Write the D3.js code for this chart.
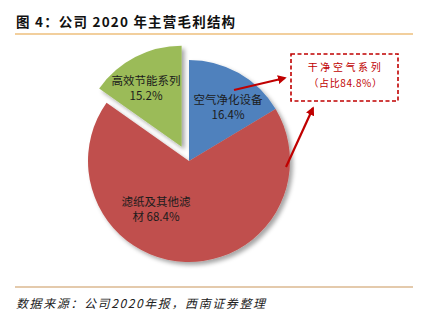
<!DOCTYPE html>
<html>
<head>
<meta charset="utf-8">
<script src="https://cdn.jsdelivr.net/npm/d3@7"></script>
<style>
  html, body { margin: 0; padding: 0; background: #fff; }
  svg { display: block; }
</style>
</head>
<body>
<svg id="chart" width="421" height="323"></svg>
<script>
// Gross profit structure by business line, 2020
const categories = ["空气净化设备", "滤纸及其他滤材", "高效节能系列"];
const labelLines = [["空气净化设备"], ["滤纸及其他滤", "材"], ["高效节能系列"]];
const values = [16.4, 68.4, 15.2];
const colors = ["#4F81BD", "#C0504D", "#9BBB59"];
const exploded = [false, false, true];
const calloutLines = ["干净空气系列", "（占比84.8%）"];

const svg = d3.select("#chart");
const cjk = "'Noto Sans CJK SC', 'Noto Sans', sans-serif";

// Title and rules
svg.append("text")
  .attr("x", 16).attr("y", 27)
  .attr("font-family", cjk).attr("font-size", 13.5).attr("font-weight", "bold")
  .attr("letter-spacing", 1.2)
  .attr("fill", "#111")
  .text("图 4：公司 2020 年主营毛利结构");
svg.append("line").attr("x1", 15).attr("x2", 413).attr("y1", 34).attr("y2", 34)
  .attr("stroke", "#E6A03C").attr("stroke-width", 1.2);
svg.append("line").attr("x1", 15).attr("x2", 413).attr("y1", 287).attr("y2", 287)
  .attr("stroke", "#C9955A").attr("stroke-width", 1.2);
svg.append("text")
  .attr("x", 16).attr("y", 308)
  .attr("font-family", cjk).attr("font-size", 12).attr("font-style", "italic")
  .attr("letter-spacing", 1.6)
  .attr("fill", "#222")
  .text("数据来源：公司2020年报，西南证券整理");

// Soft shadow under the slices
const defs = svg.append("defs");
const f = defs.append("filter").attr("id", "shadow")
  .attr("x", "-20%").attr("y", "-20%").attr("width", "140%").attr("height", "140%");
f.append("feDropShadow").attr("dx", 3).attr("dy", 3).attr("stdDeviation", 2.2)
  .attr("flood-color", "#000").attr("flood-opacity", 0.35);

const cx = 189, cy = 161, r = 101, explode = 16;
const pie = d3.pie().sort(null).value(d => d)(values);
const arc = d3.arc().innerRadius(0).outerRadius(r);
const g = svg.append("g").attr("transform", `translate(${cx},${cy})`);

function offset(d, i) {
  if (!exploded[i]) return [0, 0];
  const a = (d.startAngle + d.endAngle) / 2;
  return [Math.sin(a) * explode, -Math.cos(a) * explode];
}

g.selectAll("path.slice").data(pie).join("path")
  .attr("class", "slice")
  .attr("d", arc)
  .attr("fill", (d, i) => colors[i])
  .attr("filter", "url(#shadow)")
  .attr("transform", (d, i) => `translate(${offset(d, i)})`);

// Slice labels
const labelPos = [[39, -57], [-33, 45], [-43, -76]];
pie.forEach((d, i) => {
  const [lx, ly] = labelPos[i];
  const lines = labelLines[i];
  const pct = values[i].toFixed(1) + "%";
  const rows = lines.length > 1 ? [lines[0], lines[1] + " " + pct] : [lines[0], pct];
  const t = g.append("text")
    .attr("text-anchor", "middle")
    .attr("font-family", cjk).attr("font-size", 11.5)
    .attr("fill", "#1c1c1c");
  rows.forEach((s, k) => {
    t.append("tspan").attr("x", lx).attr("y", ly + k * 15).text(s);
  });
});

// Callout box
const bx = 291, by = 54, bw = 107, bh = 47;
svg.append("rect").attr("x", bx).attr("y", by).attr("width", bw).attr("height", bh)
  .attr("fill", "#fff").attr("stroke", "#C00000").attr("stroke-width", 1.6)
  .attr("stroke-dasharray", "4,2.5");
const calloutSpacing = [2.6, 0.6];
calloutLines.forEach((s, k) => {
  svg.append("text")
    .attr("x", bx + bw / 2 + 1).attr("y", by + 17 + k * 16)
    .attr("text-anchor", "middle")
    .attr("font-family", cjk).attr("font-size", 10)
    .attr("letter-spacing", calloutSpacing[k])
    .attr("fill", "#C00000").text(s);
});

// Arrows pointing to the callout
defs.append("marker").attr("id", "head")
  .attr("viewBox", "0 0 10 10").attr("refX", 8).attr("refY", 5)
  .attr("markerWidth", 4).attr("markerHeight", 4).attr("orient", "auto")
  .append("path").attr("d", "M0,0 L10,5 L0,10 z").attr("fill", "#C00000");
const arrows = [[[234, 90], [285, 78]], [[286, 167], [313, 108]]];
arrows.forEach(([a, b]) => {
  svg.append("line").attr("x1", a[0]).attr("y1", a[1]).attr("x2", b[0]).attr("y2", b[1])
    .attr("stroke", "#C00000").attr("stroke-width", 2.2)
    .attr("marker-end", "url(#head)");
});
</script>
</body>
</html>
